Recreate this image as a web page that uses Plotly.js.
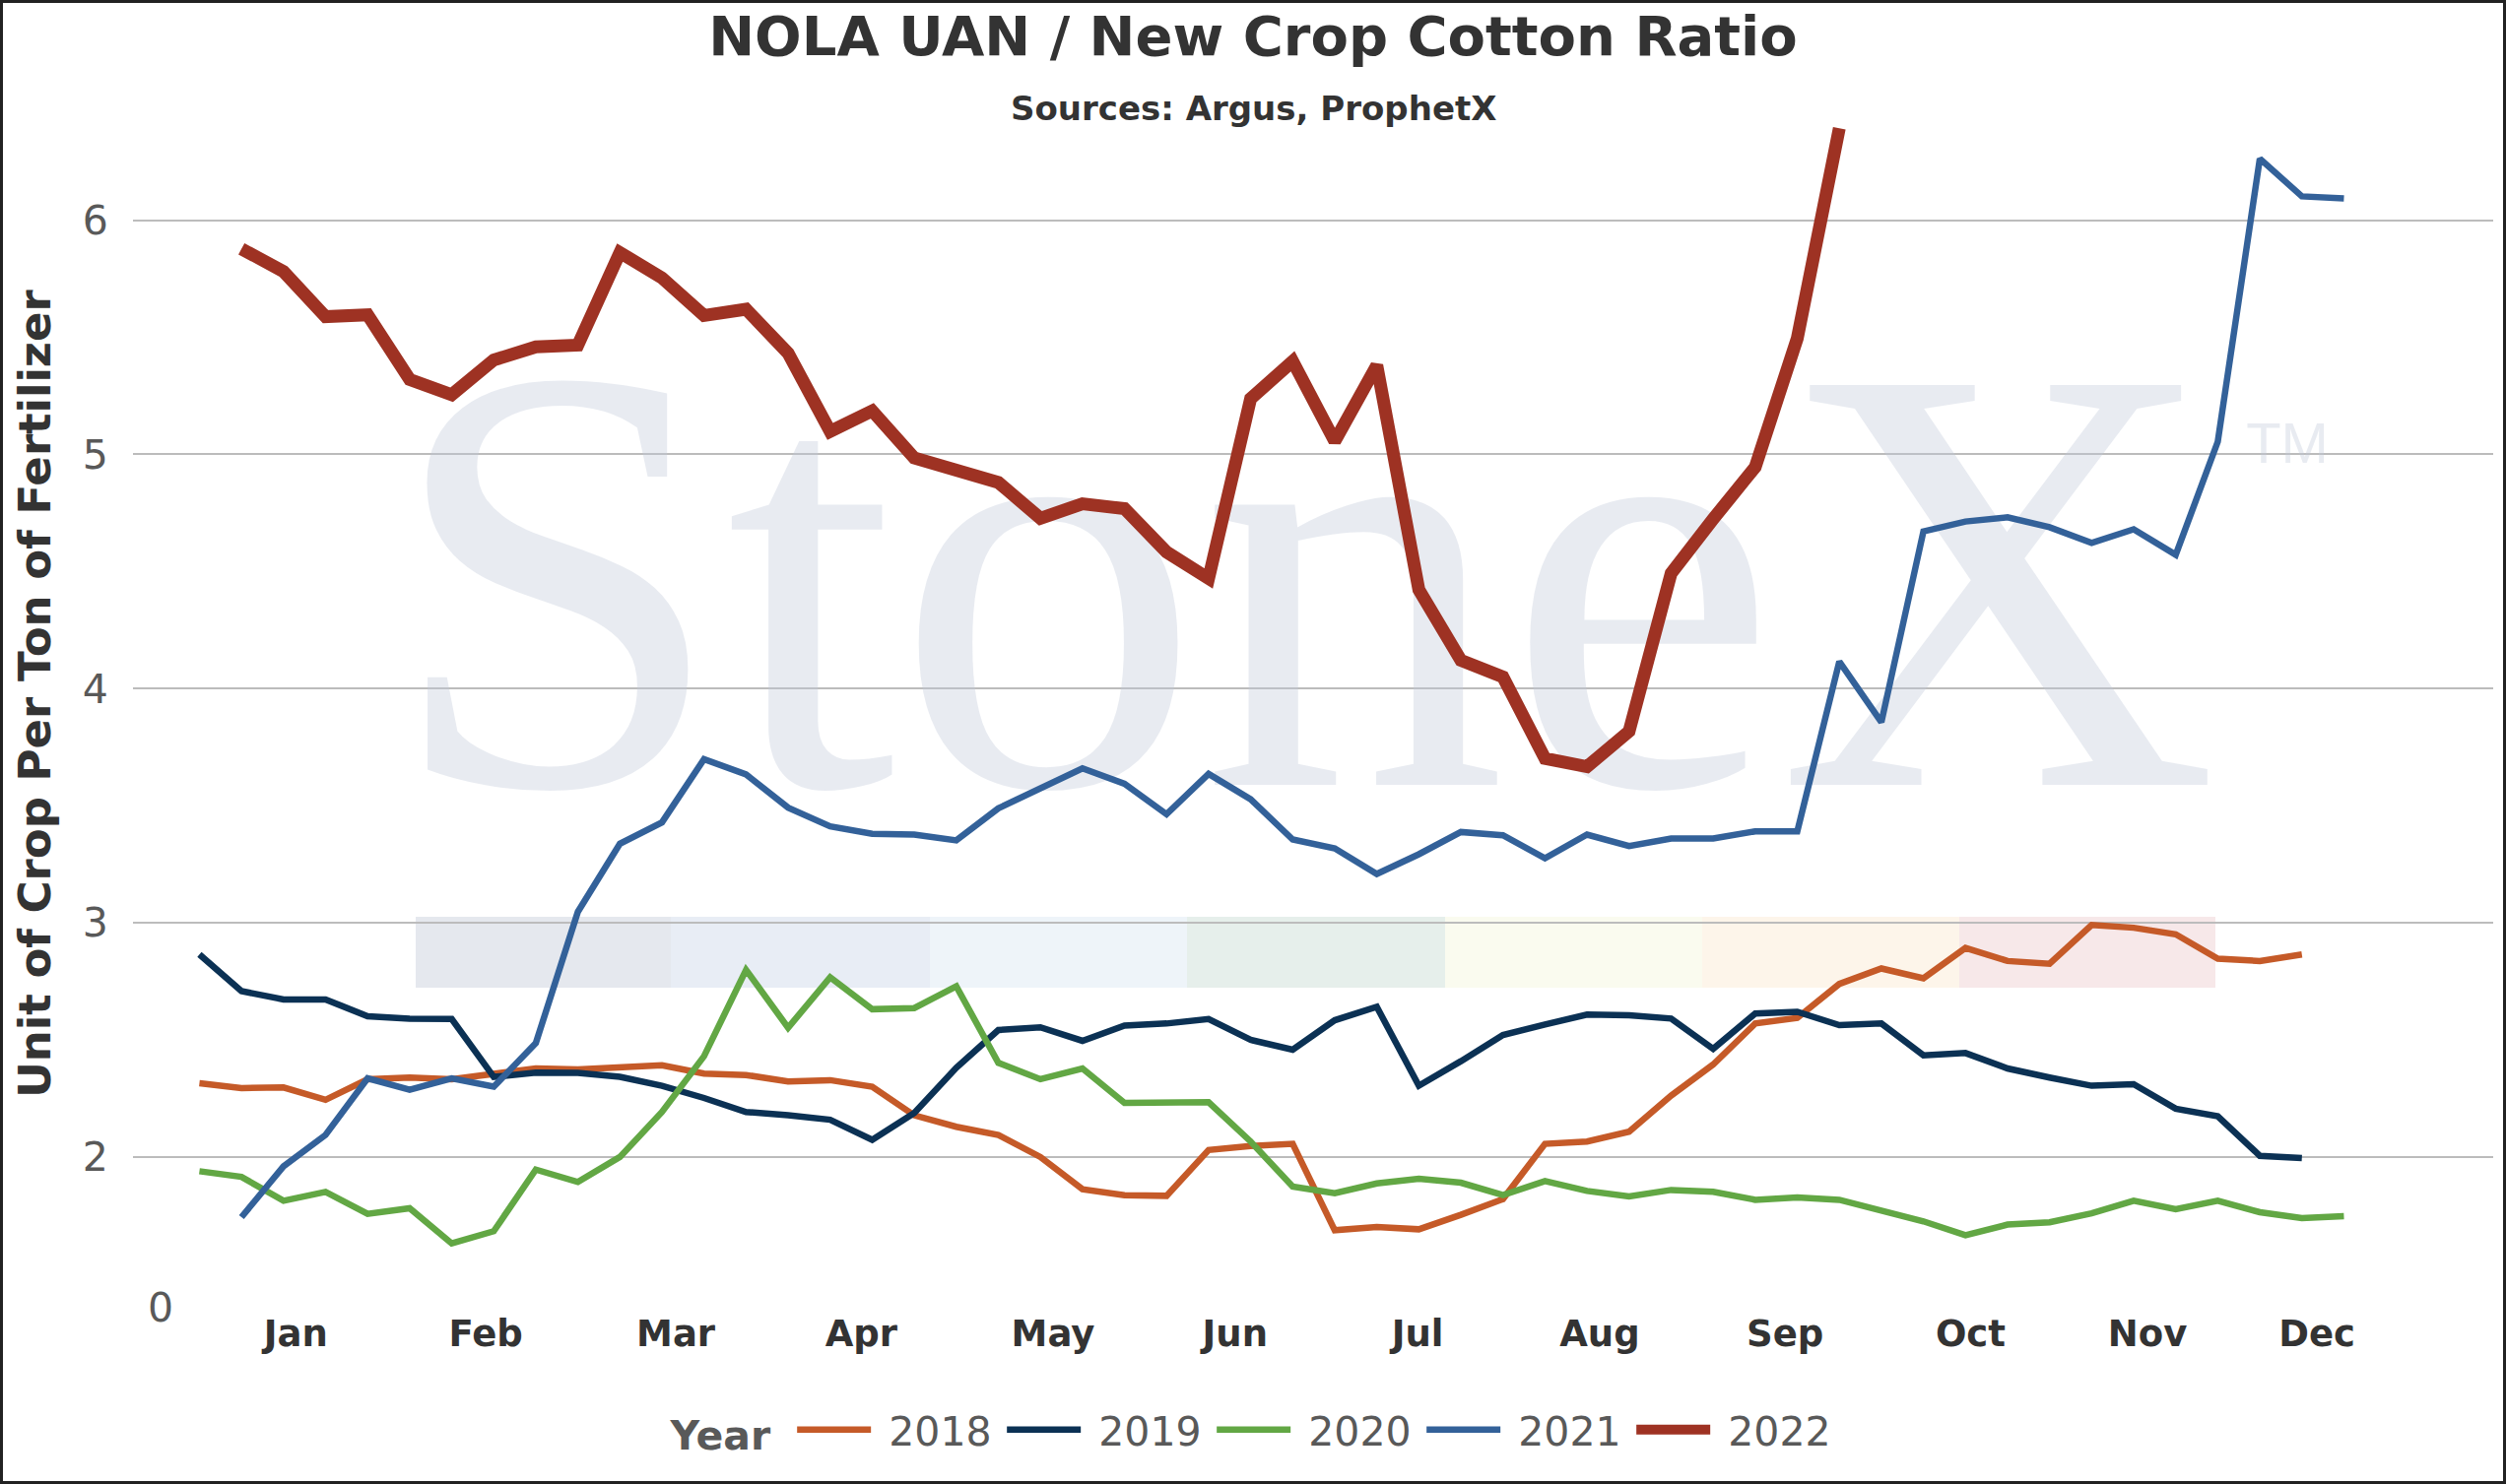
<!DOCTYPE html>
<html>
<head>
<meta charset="utf-8">
<script src="https://cdn.plot.ly/plotly-3.0.1.min.js"></script>
<style>
  html, body { margin: 0; padding: 0; background: #fff; }
  #wrap { position: relative; width: 2544px; height: 1507px; }
  #chart { width: 2544px; height: 1507px; }
  #frame { position: absolute; left: 0; top: 0; width: 2544px; height: 1507px; box-sizing: border-box; border: 3px solid #222; pointer-events: none; }
</style>
</head>
<body>
<div id="wrap"><div id="chart"></div><div id="frame"></div></div>
<script>
// ---- data (weekly, week number 1..52) ----
const weeks = [1,2,3,4,5,6,7,8,9,10,11,12,13,14,15,16,17,18,19,20,21,22,23,24,25,26,
               27,28,29,30,31,32,33,34,35,36,37,38,39,40,41,42,43,44,45,46,47,48,49,50,51,52];

const monthPos = [3.29, 7.81, 12.33, 16.74, 21.30, 25.63, 29.97, 34.30, 38.71, 43.12, 47.33, 51.36];
const monthLabels = ['Jan','Feb','Mar','Apr','May','Jun','Jul','Aug','Sep','Oct','Nov','Dec'];

const yTickVals = [2, 3, 4, 5, 6];
const yTickText = ['2', '3', '4', '5', '6'];

const years = ['2018', '2019', '2020', '2021', '2022'];

const v2018 = [2.314,2.293,2.296,2.243,2.331,2.338,2.331,2.355,2.377,2.373,2.380,2.391,2.355,2.349,2.321,2.327,
               2.299,2.177,2.128,2.093,1.999,1.861,1.836,1.833,2.029,2.046,2.055,1.686,1.700,1.690,1.752,1.819,
               2.055,2.065,2.107,2.261,2.394,2.569,2.593,2.738,2.804,2.762,2.892,2.836,2.824,2.990,2.978,2.950,
               2.846,2.836,2.864, null];

const v2019 = [2.864,2.707,2.672,2.672,2.600,2.590,2.588,2.341,2.359,2.358,2.341,2.303,2.251,2.191,2.177,2.158,
               2.072,2.187,2.380,2.541,2.553,2.495,2.560,2.569,2.588,2.499,2.457,2.583,2.640,2.303,2.408,2.520,
               2.565,2.607,2.604,2.590,2.461,2.612,2.619,2.562,2.569,2.433,2.443,2.377,2.338,2.303,2.310,2.205,
               2.173,2.004,1.994, null];

const v2020 = [1.938,1.914,1.812,1.850,1.756,1.780,1.630,1.682,1.945,1.892,1.999,2.191,2.429,2.798,2.551,2.766,
               2.630,2.635,2.728,2.401,2.331,2.377,2.230,2.230,2.233,2.065,1.872,1.844,1.886,1.906,1.889,1.836,
               1.896,1.854,1.830,1.858,1.850,1.816,1.826,1.816,1.770,1.724,1.665,1.710,1.720,1.758,1.812,1.776,
               1.812,1.763,1.738,1.746];

const v2021 = [null,1.742,1.959,2.093,2.335,2.286,2.335,2.299,2.485,3.046,3.337,3.428,3.698,3.633,3.491,3.411,
               3.379,3.376,3.351,3.488,3.572,3.659,3.593,3.463,3.635,3.527,3.355,3.317,3.208,3.292,3.387,3.373,
               3.275,3.376,3.327,3.359,3.359,3.390,3.390,4.115,3.856,4.671,4.713,4.731,4.689,4.622,4.680,4.571,
               5.054,6.263,6.102,6.093];

const v2022 = [null,5.878,5.781,5.588,5.596,5.320,5.255,5.403,5.459,5.467,5.862,5.754,5.593,5.620,5.432,5.098,
               5.186,4.985,4.929,4.880,4.727,4.789,4.768,4.583,4.470,5.238,5.398,5.056,5.380,4.422,4.120,4.049,
               3.701,3.666,3.817,4.492,4.724,4.946,5.496,6.393];

const seriesValues = [v2018, v2019, v2020, v2021, v2022];
const seriesColors = ['#C55A28', '#0B3154', '#62A744', '#336199', '#9E3223'];
const seriesWidths = [6.5, 6.5, 6.5, 6.5, 13];

// ---- geometry ----
const W = 2544, H = 1507;
const M = { l: 135, r: 13, t: 81, b: 179 };
const xRange = [-0.58, 55.55];
const yRange = [1.355, 6.6];
const plotW = W - M.l - M.r, plotH = H - M.t - M.b;
const px2x = px => xRange[0] + (px - M.l) / plotW * (xRange[1] - xRange[0]);
const py2y = py => yRange[0] + (M.t + plotH - py) / plotH * (yRange[1] - yRange[0]);
const px2paper = px => (px - M.l) / plotW;
const py2paper = py => (M.t + plotH - py) / plotH;

const FONT = 'DejaVu Sans, Verdana, sans-serif';
const wmColor = 'rgba(190,200,215,0.36)';

const traces = [];
// watermark (behind data lines)
traces.push({
  x: [px2x(1322)], y: [py2y(642)], mode: 'text', text: ['StoneX'],
  textfont: { family: 'Liberation Serif, Times New Roman, serif', size: 620, color: wmColor },
  textposition: 'middle center', showlegend: false, hoverinfo: 'skip', cliponaxis: false
});
traces.push({
  x: [px2x(2322)], y: [py2y(455)], mode: 'text', text: ['TM'],
  textfont: { family: 'Liberation Sans, Arial, sans-serif', size: 58, color: wmColor },
  textposition: 'middle center', showlegend: false, hoverinfo: 'skip', cliponaxis: false
});

years.forEach((yr, k) => {
  traces.push({
    x: weeks.slice(0, seriesValues[k].length),
    y: seriesValues[k],
    name: ' ' + yr,
    type: 'scatter',
    mode: 'lines',
    line: { color: seriesColors[k], width: seriesWidths[k] },
    connectgaps: false
  });
});

// logo colour band
const bandEdges = [422, 681, 944, 1205, 1467, 1728, 1989, 2249];
const bandColors = ['#e5e8ee', '#e8edf5', '#eef4f9', '#e6efeb', '#fafbef', '#fdf5ea', '#f7e8e9'];
const shapes = bandColors.map((c, k) => ({
  type: 'rect', layer: 'below', xref: 'paper', yref: 'paper',
  x0: px2paper(bandEdges[k]), x1: px2paper(bandEdges[k + 1]),
  y0: py2paper(1003), y1: py2paper(931),
  fillcolor: c, line: { width: 0 }
}));

const layout = {
  width: W, height: H,
  margin: M,
  paper_bgcolor: '#ffffff', plot_bgcolor: 'rgba(0,0,0,0)',
  font: { family: FONT, color: '#595959' },
  title: {
    text: '<b>NOLA UAN / New Crop Cotton Ratio</b>',
    font: { family: FONT, size: 56, color: '#333333' },
    x: 0.5, xref: 'container', y: 1 - 36 / H, yref: 'container', yanchor: 'middle'
  },
  xaxis: {
    range: xRange, showgrid: false, zeroline: false, showline: false,
    tickmode: 'array', tickvals: monthPos, ticktext: monthLabels,
    ticks: '', ticklabelstandoff: 1,
    tickfont: { family: FONT, size: 37, color: '#333333', weight: 'bold' },
    fixedrange: true
  },
  yaxis: {
    range: yRange, zeroline: false, showline: false,
    tickmode: 'array', tickvals: yTickVals, ticktext: yTickText,
    showgrid: true, gridcolor: '#bcbcbc', gridwidth: 2,
    ticks: 'outside', ticklen: 16, tickcolor: 'rgba(0,0,0,0)',
    tickfont: { family: FONT, size: 41, color: '#595959' },
    title: {
      text: '<b>Unit of Crop Per Ton of Fertilizer</b>',
      font: { family: FONT, size: 45, color: '#333333' },
      standoff: 17
    },
    automargin: false, fixedrange: true
  },
  legend: {
    orientation: 'h', x: px2paper(1274), xanchor: 'center',
    y: py2paper(1452), yanchor: 'middle',
    font: { family: FONT, size: 41, color: '#595959' },
    title: { text: '<b>Year</b> ', side: 'left', font: { family: FONT, size: 41, color: '#595959' } },
    itemwidth: 75, entrywidth: 123, entrywidthmode: 'pixels',
    traceorder: 'normal', bgcolor: 'rgba(0,0,0,0)'
  },
  shapes: shapes,
  annotations: [
    {
      text: '<b>Sources: Argus, ProphetX</b>', xref: 'paper', yref: 'paper',
      x: px2paper(1272), y: py2paper(110), xanchor: 'center', yanchor: 'middle',
      showarrow: false, font: { family: FONT, size: 34, color: '#333333' }
    },
    {
      text: '0', xref: 'paper', yref: 'paper',
      x: px2paper(163), y: py2paper(1328), xanchor: 'center', yanchor: 'middle',
      showarrow: false, font: { family: FONT, size: 41, color: '#595959' }
    }
  ],
  showlegend: true
};

Plotly.newPlot('chart', traces, layout, { displayModeBar: false, staticPlot: true });
</script>
</body>
</html>
